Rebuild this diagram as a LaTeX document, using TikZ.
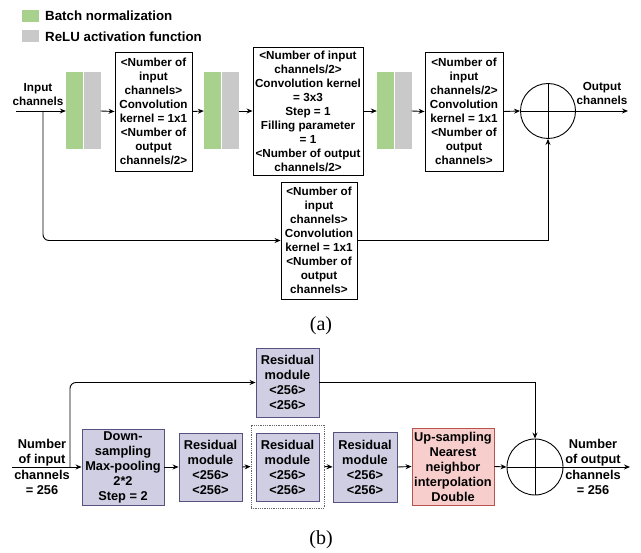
\documentclass[tikz,border=0pt]{standalone}
\usepackage{fontspec}
\setmainfont{Liberation Serif}
\setsansfont{Liberation Sans}
\usetikzlibrary{arrows.meta}

\definecolor{bngreen}{HTML}{A9D18E}
\definecolor{relugray}{HTML}{C9C9C9}
\definecolor{resfill}{HTML}{D0CEE2}
\definecolor{resline}{HTML}{56517E}
\definecolor{upfill}{HTML}{F8CECC}
\definecolor{upline}{HTML}{B85450}

\tikzset{
    conv/.style={draw,line width=0.9pt,align=center,inner sep=0pt,
        font=\sffamily\bfseries\fontsize{11.7}{14}\selectfont},
    bn/.style={fill=bngreen,minimum width=16.5pt,minimum height=77pt,inner sep=0pt},
    relu/.style={fill=relugray,minimum width=17pt,minimum height=77pt,inner sep=0pt},
    res/.style={draw=resline,fill=resfill,line width=0.9pt,align=center,inner sep=0pt,
        font=\sffamily\bfseries\fontsize{12.8}{15}\selectfont},
    upbox/.style={res,draw=upline,fill=upfill},
    sumnode/.style={circle,draw,line width=0.9pt,minimum size=55pt,inner sep=0pt},
    lbl/.style={align=center,inner sep=0pt,font=\sffamily\bfseries\fontsize{11.7}{13.5}\selectfont},
    lblb/.style={align=center,inner sep=0pt,font=\sffamily\bfseries\fontsize{12.8}{15.5}\selectfont},
    legend/.style={anchor=west,inner sep=0pt,font=\sffamily\bfseries\fontsize{13.3}{16}\selectfont},
    swatch/.style={minimum width=17pt,minimum height=12.5pt,inner sep=0pt},
    link/.style={line width=0.9pt,-{Stealth[length=6pt,width=5pt]}},
    caption/.style={inner sep=0pt,font=\fontsize{20}{24}\selectfont},
}

\begin{document}
\begin{tikzpicture}[x=1pt,y=1pt]
    \useasboundingbox (0,0) rectangle (641,-553);

    % legend
    \node[swatch,fill=bngreen] (keybn) at (30.5,-16) {};
    \node[swatch,fill=relugray] (keyrelu) at (30.5,-36) {};
    \node[legend] at (45,-16) {Batch normalization};
    \node[legend] at (45,-37) {ReLU activation function};

    % (a) residual module
    \coordinate (ina) at (16,-111);
    \coordinate (splita) at (43,-111);
    \coordinate (outa) at (628,-111);

    \node[bn] (bn1) at (74.25,-111) {};
    \node[relu] (relu1) at (92,-111) {};
    \node[conv,minimum width=77pt,minimum height=119pt] (conv1) at (153.5,-111.5)
        {<Number of\\input\\channels>\\Convolution\\kernel = 1x1\\<Number of\\output\\channels/2>};
    \node[bn] (bn2) at (212.25,-111) {};
    \node[relu] (relu2) at (230,-111) {};
    \node[conv,minimum width=110pt,minimum height=128pt] (conv2) at (308,-111)
        {<Number of input\\channels/2>\\Convolution kernel\\= 3x3\\Step = 1\\Filling parameter\\= 1\\<Number of output\\channels/2>};
    \node[bn] (bn3) at (385.25,-111) {};
    \node[relu] (relu3) at (403,-111) {};
    \node[conv,minimum width=78pt,minimum height=119pt] (conv3) at (464,-111.5)
        {<Number of\\input\\channels/2>\\Convolution\\kernel = 1x1\\<Number of\\output\\channels>};
    \node[conv,minimum width=76pt,minimum height=117pt] (conv4) at (319,-240.5)
        {<Number of\\input\\channels>\\Convolution\\kernel = 1x1\\<Number of\\output\\channels>};
    \node[sumnode] (suma) at (548,-111) {};
    \draw[line width=0.9pt] (suma.north) -- (suma.south);
    \draw[line width=0.9pt] (suma.west) -- (suma.east);

    \node[lbl] at (38,-94.5) {Input\\channels};
    \node[lbl] at (602,-93.5) {Output\\channels};

    \draw[link] (ina) -- (bn1.west);
    \draw[link] (relu1.east) -- (conv1.west);
    \draw[link] (conv1.east) -- (bn2.west);
    \draw[link] (relu2.east) -- (conv2.west);
    \draw[link] (conv2.east) -- (bn3.west);
    \draw[link] (relu3.east) -- (conv3.west);
    \draw[link] (conv3.east) -- (suma.west);
    \draw[link] (suma.east) -- (outa);
    \draw[link,rounded corners=6pt] (splita) |- (conv4.west);
    \draw[link] (conv4.east) -| (suma.south);

    \node[caption] at (321,-326) {(a)};

    % (b) hourglass stage
    \coordinate (inb) at (12,-467);
    \coordinate (splitb) at (70,-467);
    \coordinate (outb) at (630,-467);

    \node[res,minimum width=82pt,minimum height=76pt] (down) at (123,-467)
        {Down-\\sampling\\Max-pooling\\2*2\\Step = 2};
    \node[res,minimum width=63pt,minimum height=68pt] (res1) at (210.5,-467)
        {Residual\\module\\<256>\\<256>};
    \node[draw=black!60,densely dotted,line width=0.8pt,minimum width=73pt,minimum height=83pt,inner sep=0pt] (group) at (287.5,-466.5) {};
    \node[res,minimum width=63pt,minimum height=68pt] (res2) at (287.5,-467)
        {Residual\\module\\<256>\\<256>};
    \node[res,minimum width=64pt,minimum height=70pt] (res3) at (365,-467)
        {Residual\\module\\<256>\\<256>};
    \node[upbox,minimum width=82pt,minimum height=77pt] (up) at (453,-466.5)
        {Up-sampling\\Nearest\\neighbor\\interpolation\\Double};
    \node[res,minimum width=63pt,minimum height=69pt] (restop) at (287.5,-382.5)
        {Residual\\module\\<256>\\<256>};
    \node[sumnode,minimum size=56pt] (sumb) at (535,-467) {};
    \draw[line width=0.9pt] (sumb.north) -- (sumb.south);
    \draw[line width=0.9pt] (sumb.west) -- (sumb.east);

    \node[lblb] at (42,-467) {Number\\of input\\channels\\= 256};
    \node[lblb] at (593,-467) {Number\\of output\\channels\\= 256};

    \draw[link] (inb) -- (down.west);
    \draw[link] (down.east) -- (res1.west);
    \draw[link] (res1.east) -- (group.west);
    \draw[link] (group.east) -- (res3.west);
    \draw[link] (res3.east) -- (up.west);
    \draw[link] (up.east) -- (sumb.west);
    \draw[link] (sumb.east) -- (outb);
    \draw[link,rounded corners=6pt] (splitb) |- (restop.west);
    \draw[link] (restop.east) -| (sumb.north);

    \node[caption] at (321,-540) {(b)};
\end{tikzpicture}
\end{document}
